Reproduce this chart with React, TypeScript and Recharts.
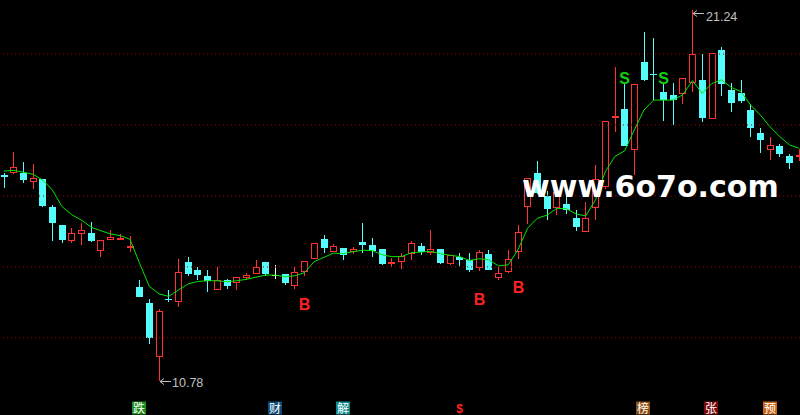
import { ComposedChart, Bar, Line, XAxis, YAxis, ReferenceLine } from "recharts";

// daily bars
const opens = [
  16.59, 16.64, 16.64, 16.4, 16.48, 15.69, 15.18, 14.74, 14.94, 14.96,
  14.46, 14.77, 14.79, 14.54, 13.44, 12.99, 11.47, 13.09, 13.01, 14.14,
  13.91, 13.75, 13.36, 13.63, 13.54, 13.7, 13.79, 14.14, 13.78, 13.8,
  13.45, 13.87, 14.21, 14.79, 14.42, 14.54, 14.41, 14.7, 14.62, 14.51,
  14.08, 14.13, 14.36, 14.59, 14.39, 14.51, 14.08, 14.28, 14.2, 13.97,
  14.37, 13.7, 13.87, 14.41, 15.68, 16.65, 16.0, 15.66, 15.77, 15.38,
  14.98, 15.65, 16.25, 18.2, 18.45, 17.29, 19.77, 19.45, 18.93, 18.85,
  18.87, 19.19, 19.27, 18.18, 20.11, 18.99, 18.9, 18.42, 17.77, 17.29,
  17.41, 17.13, 17.1,
];
const highs = [
  16.65, 17.24, 16.96, 16.9, 16.48, 15.74, 15.18, 15.1, 15.23, 15.27,
  14.76, 15.04, 14.93, 14.87, 13.63, 13.1, 12.82, 13.35, 14.22, 14.28,
  14.0, 13.91, 14.0, 13.66, 13.71, 13.82, 14.19, 14.14, 14.06, 13.8,
  14.01, 14.16, 14.67, 14.9, 14.65, 14.54, 14.56, 15.24, 14.82, 14.51,
  14.25, 14.39, 14.73, 14.68, 15.04, 14.51, 14.34, 14.39, 14.39, 14.48,
  14.48, 13.99, 14.48, 15.18, 16.5, 16.99, 16.15, 16.2, 16.0, 15.61,
  15.83, 16.87, 18.1, 19.63, 19.15, 19.15, 20.62, 20.45, 19.15, 19.18,
  19.32, 21.24, 20.0, 20.03, 20.2, 19.18, 19.27, 18.59, 17.91, 17.66,
  17.46, 17.18, 17.32,
];
const lows = [
  16.23, 16.62, 16.37, 16.2, 15.7, 14.74, 14.68, 14.68, 14.62, 14.7,
  14.29, 14.77, 14.78, 14.43, 13.16, 11.84, 10.78, 13.01, 12.88, 13.75,
  13.63, 13.3, 13.36, 13.39, 13.36, 13.62, 13.79, 13.73, 13.67, 13.5,
  13.39, 13.75, 14.21, 14.39, 14.42, 14.2, 14.36, 14.4, 14.28, 14.06,
  13.99, 13.95, 14.2, 14.34, 14.34, 14.08, 14.06, 14.03, 13.86, 13.89,
  13.9, 13.63, 13.82, 14.22, 15.21, 16.05, 15.32, 15.46, 15.49, 15.01,
  14.98, 15.32, 16.2, 17.81, 17.41, 16.59, 19.24, 18.7, 18.12, 18.0,
  18.59, 18.93, 18.08, 18.18, 18.82, 18.37, 18.62, 17.66, 17.21, 17.01,
  17.1, 16.76, 16.99,
];
const closes = [
  16.54, 16.81, 16.46, 16.5, 15.73, 15.25, 14.76, 14.95, 15.04, 14.74,
  14.76, 14.84, 14.82, 14.59, 13.16, 12.01, 12.76, 13.06, 13.86, 13.81,
  13.77, 13.61, 13.63, 13.47, 13.71, 13.77, 13.99, 13.81, 13.78, 13.56,
  13.87, 14.16, 14.67, 14.54, 14.59, 14.33, 14.51, 14.62, 14.45, 14.09,
  14.14, 14.31, 14.68, 14.42, 14.5, 14.11, 14.34, 14.2, 13.91, 14.42,
  13.9, 13.82, 14.22, 14.99, 16.5, 16.07, 15.63, 16.11, 15.61, 15.13,
  15.37, 16.47, 18.1, 18.25, 17.41, 19.15, 19.27, 19.42, 18.7, 18.7,
  19.32, 20.0, 18.2, 20.03, 19.15, 18.62, 18.68, 17.91, 17.58, 17.44,
  17.18, 16.93, 17.15,
];
const ma = [
  16.7, 16.72, 16.67, 16.61, 16.45, 16.17, 15.7, 15.47, 15.32, 15.12,
  15.02, 14.93, 14.88, 14.78, 14.1, 13.45, 13.24, 13.17, 13.35, 13.52,
  13.59, 13.61, 13.61, 13.58, 13.61, 13.65, 13.71, 13.77, 13.77, 13.72,
  13.75, 13.84, 14.15, 14.27, 14.39, 14.37, 14.43, 14.47, 14.46, 14.34,
  14.29, 14.29, 14.4, 14.42, 14.44, 14.37, 14.33, 14.29, 14.18, 14.23,
  14.2, 14.03, 14.06, 14.48, 15.09, 15.37, 15.46, 15.65, 15.64, 15.49,
  15.44, 15.89, 16.68, 17.11, 17.27, 17.86, 18.42, 18.7, 18.7, 18.7,
  18.85, 19.25, 18.89, 19.17, 19.27, 19.06, 18.94, 18.56, 18.28, 17.95,
  17.67, 17.44, 17.34,
];

const gridLevels = [12, 14, 16, 18, 20];
const buyAt = [31, 49, 53];
const sellAt = [64, 68];
const markers = [
  { i: 14, ch: "跌", bg: "#1a8c1a", fg: "#ffffff" },
  { i: 28, ch: "财", bg: "#0e4a7a", fg: "#ffffff" },
  { i: 35, ch: "解", bg: "#0f8a8a", fg: "#ffffff" },
  { i: 47, ch: "$", bg: "", fg: "#ff2020" },
  { i: 66, ch: "榜", bg: "#8a4a10", fg: "#ffffff" },
  { i: 73, ch: "张", bg: "#7a0a0a", fg: "#ffffff" },
  { i: 79, ch: "预", bg: "#c86414", fg: "#ffffff" },
];

const data = opens.map((o, i) => ({
  i,
  open: o,
  high: highs[i],
  low: lows[i],
  close: closes[i],
  ma: ma[i],
}));

const maxHigh = Math.max(...highs);
const minLow = Math.min(...lows);

const UP = "#ff3232";
const DOWN = "#54fcfc";
const MA = "#00e600";
const LABEL = "#c0c0c0";

function Candle(props: any) {
  const { x, y, width, height, payload } = props;
  const top = Math.min(y, y + height);
  const bottom = Math.max(y, y + height);
  const range = payload.high - payload.low;
  const k = range > 0 ? (bottom - top) / range : 0;
  const py = (v: number) => top + (payload.high - v) * k;
  const cx = Math.floor(x + width / 2);
  const yo = py(payload.open);
  const yc = py(payload.close);
  const bTop = Math.round(Math.min(yo, yc));
  const bBot = Math.max(bTop + 1, Math.round(Math.max(yo, yc)));
  const hY = Math.round(top);
  const lY = Math.round(bottom);
  const wx = cx + 0.5;

  let body;
  if (payload.close > payload.open) {
    body = (
      <g>
        <line x1={wx} x2={wx} y1={hY} y2={bTop} stroke={UP} />
        <line x1={wx} x2={wx} y1={bBot} y2={lY} stroke={UP} />
        <rect x={cx - 2.5} y={bTop + 0.5} width={6} height={Math.max(bBot - bTop - 1, 1)} fill="none" stroke={UP} />
      </g>
    );
  } else if (payload.close < payload.open) {
    body = (
      <g>
        <line x1={wx} x2={wx} y1={hY} y2={lY} stroke={DOWN} />
        <rect x={cx - 3} y={bTop} width={7} height={bBot - bTop} fill={DOWN} />
      </g>
    );
  } else {
    body = (
      <g>
        <line x1={wx} x2={wx} y1={hY} y2={lY} stroke="#ffffff" />
        <line x1={cx - 3} x2={cx + 4} y1={bTop + 0.5} y2={bTop + 0.5} stroke="#ffffff" />
      </g>
    );
  }

  return (
    <g>
      {body}
      {payload.high === maxHigh && (
        <g>
          <path
            d={`M${cx + 1} ${hY + 3.5} l4 -3 M${cx + 1} ${hY + 3.5} l4 3 M${cx + 1} ${hY + 3.5} H${cx + 12}`}
            stroke={LABEL}
            fill="none"
          />
          <text x={cx + 14} y={hY + 10.5} fill={LABEL} fontSize={12.5} fontFamily="Liberation Sans">
            {payload.high.toFixed(2)}
          </text>
        </g>
      )}
      {payload.low === minLow && (
        <g>
          <path
            d={`M${cx + 1} ${lY + 0.5} l4 -3 M${cx + 1} ${lY + 0.5} l4 3 M${cx + 1} ${lY + 0.5} H${cx + 12}`}
            stroke={LABEL}
            fill="none"
          />
          <text x={cx + 13} y={lY + 5.5} fill={LABEL} fontSize={12.5} fontFamily="Liberation Sans">
            {payload.low.toFixed(2)}
          </text>
        </g>
      )}
      {buyAt.includes(payload.i) && (
        <text x={wx} y={lY + 34} fill="#ff2020" fontSize={16} fontWeight="bold" fontFamily="Liberation Sans" textAnchor="middle">
          B
        </text>
      )}
      {sellAt.includes(payload.i) && (
        <text x={wx} y={hY} fill="#10d010" fontSize={16} fontWeight="bold" fontFamily="Liberation Sans" textAnchor="middle">
          S
        </text>
      )}
    </g>
  );
}

function MarkTick(props: any) {
  const { x, y, payload } = props;
  const m = markers.find((mm) => mm.i === payload.value);
  if (!m) return <g />;
  const cx = Math.floor(x);
  if (!m.bg) {
    return (
      <text x={cx + 0.5} y={y + 12.5} fill={m.fg} fontSize={12} fontWeight="bold" fontFamily="Liberation Sans" textAnchor="middle">
        {m.ch}
      </text>
    );
  }
  return (
    <g>
      <rect x={cx - 7} y={y + 1.5} width={14} height={13} fill={m.bg} />
      <text x={cx} y={y + 12.5} fill={m.fg} fontSize={12} fontFamily="Noto Sans CJK SC" textAnchor="middle">
        {m.ch}
      </text>
    </g>
  );
}

export default function App() {
  return (
    <div style={{ position: "absolute", left: 0, top: 0, width: 800, height: 415, background: "#000", overflow: "hidden" }}>
      <div style={{ position: "absolute", left: -1.5, top: 0 }}>
        <ComposedChart
          width={805}
          height={415}
          data={data}
          margin={{ top: 0.75, right: 0, bottom: 0, left: 0 }}
          barCategoryGap={0}
        >
          <XAxis
            dataKey="i"
            interval={0}
            tickLine={false}
            axisLine={false}
            tickSize={0}
            tickMargin={0}
            height={15}
            tick={(p: any) => <MarkTick {...p} />}
          />
          <YAxis hide domain={[10.25, 21.5]} allowDataOverflow />
          {gridLevels.map((v) => (
            <ReferenceLine key={v} y={v} stroke="#990000" strokeDasharray="1 3" />
          ))}
          <Bar
            dataKey={(d: any) => [d.low, d.high]}
            shape={(p: any) => <Candle {...p} />}
            isAnimationActive={false}
          />
          <Line
            type="linear"
            dataKey="ma"
            stroke={MA}
            strokeWidth={1}
            dot={false}
            activeDot={false}
            isAnimationActive={false}
          />
        </ComposedChart>
      </div>
      <svg width={800} height={415} style={{ position: "absolute", left: 0, top: 0, pointerEvents: "none" }}>
        <text x={522} y={197} fill="#ffffff" fontSize={30} fontWeight="bold" fontFamily="DejaVu Sans">
          www.6o7o.com
        </text>
      </svg>
    </div>
  );
}
